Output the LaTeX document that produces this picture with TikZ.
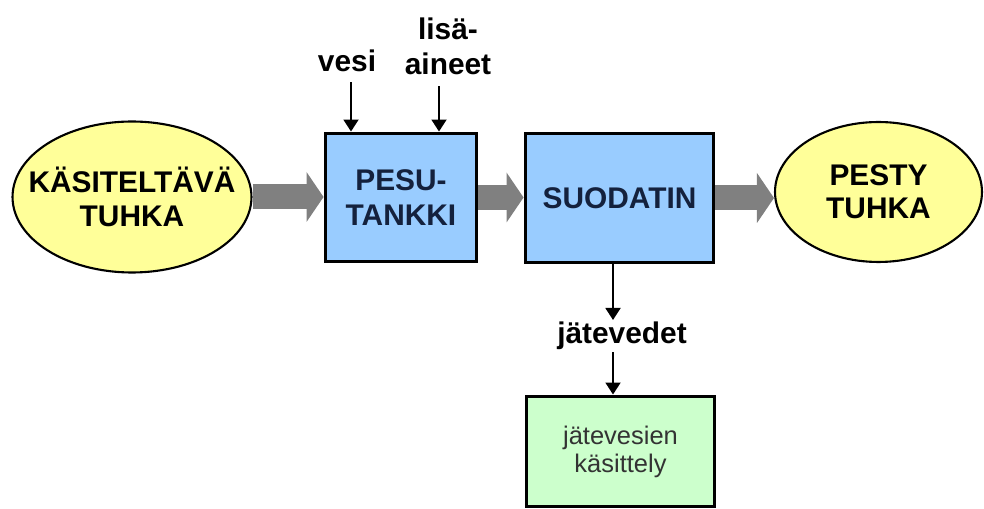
\documentclass[tikz,border=0pt]{standalone}
\usepackage{fontspec}
\setmainfont{Liberation Sans}
\usetikzlibrary{arrows.meta,shapes.geometric}
\definecolor{tuhkankelt}{HTML}{FFFF99}
\definecolor{tankinsin}{HTML}{99CCFF}
\definecolor{vesivihr}{HTML}{CCFFCC}
\definecolor{virtaharm}{HTML}{808080}
\definecolor{tummasin}{HTML}{14213D}
\begin{document}
\begin{tikzpicture}[x=0.02cm,y=-0.02cm,
    tuhka/.style={ellipse,draw,line width=1.2pt,fill=tuhkankelt,inner xsep=-1.5cm,inner ysep=0pt,align=center,
      font={\bfseries\fontsize{17}{19}\selectfont}},
    prosessi/.style={rectangle,draw,line width=1.7pt,fill=tankinsin,inner sep=0pt,align=center,
      text=tummasin,font={\bfseries\fontsize{17}{20}\selectfont}},
    jakso/.style={rectangle,draw,line width=1.7pt,fill=vesivihr,inner sep=0pt,align=center,
      text=black!80,font={\fontsize{14.5}{16}\selectfont}},
    nimi/.style={inner sep=1pt,align=center,font={\bfseries\fontsize{17}{19.8}\selectfont}},
    virta/.style={line width=0.5cm,draw=virtaharm,-{Triangle[length=0.34cm,width=1cm,line width=0pt]}},
    syotto/.style={line width=1.1pt,-{Triangle[length=0.24cm,width=0.3cm]}}]
  \useasboundingbox (0,0) rectangle (984,509);
  % paaprosessi
  \node[tuhka,minimum width=4.78cm,minimum height=3.02cm] (kasiteltava) at (132,197) {KÄSITELTÄVÄ\\TUHKA};
  \node[prosessi,minimum width=3.04cm,minimum height=2.58cm] (pesutankki) at (401,197.5) {PESU-\\TANKKI};
  \node[prosessi,minimum width=3.78cm,minimum height=2.6cm] (suodatin) at (619.5,198) {SUODATIN};
  \node[tuhka,minimum width=4.14cm,minimum height=2.8cm] (pestytuhka) at (878.5,192) {PESTY\\TUHKA};
  \draw[virta] (kasiteltava.east) -- (kasiteltava.east -| pesutankki.west);
  \draw[virta] (pesutankki.east) -- (pesutankki.east -| suodatin.west);
  \draw[virta] (suodatin.east) -- (suodatin.east -| pestytuhka.west);
  % syotot
  \node[nimi,anchor=base] (vesi) at (347,72) {vesi};
  \node[nimi] (lisaaineet) at (448,46) {lisä-\\aineet};
  \draw[syotto] ([xshift=0.08cm,yshift=-0.16cm]vesi.south) -- ([xshift=0.08cm]vesi.south |- pesutankki.north);
  \draw[syotto] ([xshift=-0.18cm,yshift=-0.2cm]lisaaineet.south) -- ([xshift=-0.18cm]lisaaineet.south |- pesutankki.north);
  % jatevedet
  \node[nimi] (jatevedet) at (622,336) {jätevedet};
  \node[jakso,minimum width=3.78cm,minimum height=2.22cm] (vesienkasittely) at (620.5,451.5) {jätevesien\\käsittely};
  \draw[syotto] ([xshift=-0.13cm]suodatin.south) -- ([xshift=-0.13cm]suodatin.south |- jatevedet.north);
  \draw[syotto] ([xshift=-0.18cm]jatevedet.south) -- ([xshift=-0.18cm]jatevedet.south |- vesienkasittely.north);
\end{tikzpicture}
\end{document}
